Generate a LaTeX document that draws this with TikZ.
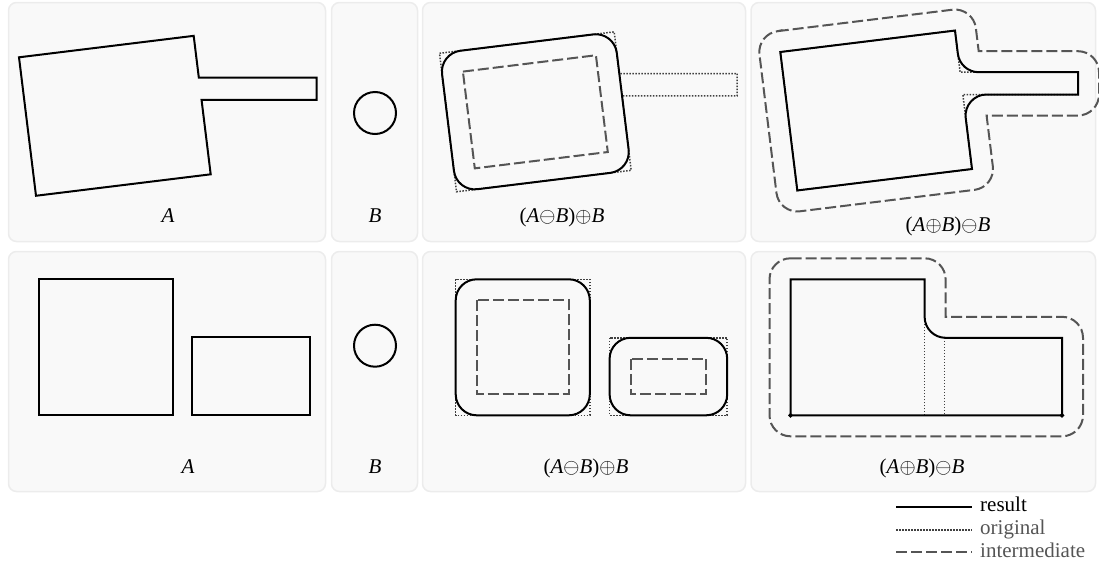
\documentclass[tikz,border=0pt]{standalone}
\usepackage{fontspec}
\setmainfont{Liberation Serif}
\definecolor{panelfill}{HTML}{F9F9F9}
\definecolor{panelline}{HTML}{ECECEC}
\definecolor{intercol}{HTML}{555555}
\definecolor{origcol}{HTML}{404040}
\definecolor{legcol}{HTML}{555555}
\tikzset{
  panel/.style={fill=panelfill, draw=panelline, line width=1.5pt, rounded corners=8pt},
  result/.style={draw=black, line width=2pt},
  original/.style={draw=origcol, line width=1.5pt, dash pattern=on 1.5pt off 1.5pt},
  interm/.style={draw=intercol, line width=2pt, dash pattern=on 11pt off 4pt},
  lbl/.style={font=\fontsize{21}{25}\selectfont, anchor=base, inner sep=0pt},
  legtext/.style={font=\fontsize{21}{25}\selectfont, anchor=base west, inner sep=0pt},
  cornermark/.style={fill=black, draw=none},
}
\begin{document}
\begin{tikzpicture}[x=1pt, y=-1pt]
\useasboundingbox (0,0) rectangle (1099,565);
% ---------- panels ----------
\path[panel] (8.5,2.5) rectangle (325.5,241.5);
\path[panel] (331.5,2.5) rectangle (417.5,241.5);
\path[panel] (422.5,2.5) rectangle (745.5,241.5);
\path[panel] (751,2.5) rectangle (1095.5,241.5);
\path[panel] (8.5,251.5) rectangle (325.5,491.5);
\path[panel] (331.5,251.5) rectangle (417.5,491.5);
\path[panel] (422.5,251.5) rectangle (745.5,491.5);
\path[panel] (751,251.5) rectangle (1095.5,491.5);

% ---------- top row ----------
% A
\draw[result] (19,57.3) -- (193.69,35.85) -- (198.80,77.5) -- (316.7,77.5) -- (316.7,99.8)
  -- (201.54,99.8) -- (210.69,174.31) -- (36.0,195.76) -- cycle;
\node[lbl] (lA1) at (168,222) {\textit{A}};
% B
\draw[result] (375,113) circle[radius=21pt];
\node[lbl] (lB1) at (375,222) {\textit{B}};
% opening
\begin{scope}[shift={(420.5,-4)}]
  \draw[original] (19,57.3) -- (193.69,35.85) -- (198.80,77.5) -- (316.7,77.5) -- (316.7,99.8)
    -- (201.54,99.8) -- (210.69,174.31) -- (36.0,195.76) -- cycle;
  \begin{scope}[shift={(19,57.3)}, rotate=7]
    \draw[interm] (21,21) -- (155,21) -- (155,118.5) -- (21,118.5) -- cycle;
    \draw[result, rounded corners=21pt] (0,0) -- (176,0) -- (176,139.5) -- (0,139.5) -- cycle;
  \end{scope}
\end{scope}
\node[lbl] (lO1) at (562,222) {(\textit{A}$\ominus$\textit{B})$\oplus$\textit{B}};
% closing
\begin{scope}[shift={(761.3,-5.3)}]
  \draw[original] (19,57.3) -- (193.69,35.85) -- (198.80,77.5) -- (316.7,77.5) -- (316.7,99.8)
    -- (201.54,99.8) -- (210.69,174.31) -- (36.0,195.76) -- cycle;
  \draw[interm] (16.44,36.46) -- (191.13,15.01) arc[start angle=97, end angle=7, radius=21pt]
    -- (217.38,56.5) -- (316.7,56.5) arc[start angle=90, end angle=0, radius=21pt]
    -- (337.7,99.8) arc[start angle=0, end angle=-90, radius=21pt]
    -- (225.27,120.8) -- (231.53,171.75) arc[start angle=7, end angle=-83, radius=21pt]
    -- (38.56,216.6) arc[start angle=-83, end angle=-173, radius=21pt]
    -- (-1.84,59.86) arc[start angle=-173, end angle=-263, radius=21pt] -- cycle;
  \draw[result] (19,57.3) -- (193.69,35.85) -- (196.54,59.06)
    .. controls (197.83,69.59) and (206.77,77.5) .. (217.38,77.5)
    -- (316.7,77.5) -- (316.7,99.8) -- (225.28,99.8)
    .. controls (212.67,99.8) and (202.89,110.84) .. (204.43,123.36)
    -- (210.69,174.31) -- (36.0,195.76) -- cycle;
\end{scope}
\node[lbl] (lC1) at (948,231.5) {(\textit{A}$\oplus$\textit{B})$\ominus$\textit{B}};

% ---------- bottom row ----------
\draw[result] (38.5,278.8) rectangle (172.6,414.8);
\draw[result] (192.4,337.3) rectangle (310,414.8);
\node[lbl] (lA2) at (188,473) {\textit{A}};
\draw[result] (375,345.7) circle[radius=21pt];
\node[lbl] (lB2) at (375,473) {\textit{B}};
% opening
\begin{scope}[shift={(417.2,0.5)}]
  \draw[original] (38.5,278.8) rectangle (172.6,414.8);
  \draw[original] (192.4,337.3) rectangle (310,414.8);
  \draw[interm] (59.5,299.8) rectangle (151.6,393.8);
  \draw[interm] (213.4,358.3) rectangle (289,393.8);
  \draw[result, rounded corners=21pt] (38.5,278.8) rectangle (172.6,414.8);
  \draw[result, rounded corners=21pt] (192.4,337.3) rectangle (310,414.8);
\end{scope}
\node[lbl] (lO2) at (586,473) {(\textit{A}$\ominus$\textit{B})$\oplus$\textit{B}};
% closing
\begin{scope}[shift={(752,0.5)}]
  \draw[original] (38.5,278.8) rectangle (172.6,414.8);
  \draw[original] (192.4,337.3) rectangle (310,414.8);
  \draw[interm] (38.5,257.8) -- (172.6,257.8) arc[start angle=90, end angle=0, radius=21pt]
    -- (193.6,316.3) -- (310,316.3) arc[start angle=90, end angle=0, radius=21pt]
    -- (331,414.8) arc[start angle=0, end angle=-90, radius=21pt]
    -- (38.5,435.8) arc[start angle=-90, end angle=-180, radius=21pt]
    -- (17.5,278.8) arc[start angle=180, end angle=90, radius=21pt] -- cycle;
  \draw[result] (38.5,278.8) -- (172.6,278.8) -- (172.6,316.3)
    arc[start angle=180, end angle=270, radius=21pt]
    -- (310,337.3) -- (310,414.8) -- (38.5,414.8) -- cycle;
  \path[cornermark] (36,414.8) -- (38.5,412.3) -- (41,414.8) -- (38.5,417.3) -- cycle;
  \path[cornermark] (307.5,414.8) -- (310,412.3) -- (312.5,414.8) -- (310,417.3) -- cycle;
\end{scope}
\node[lbl] (lC2) at (922,473) {(\textit{A}$\oplus$\textit{B})$\ominus$\textit{B}};

% ---------- legend ----------
\coordinate (r1) at (896,507.3); \coordinate (r2) at (972,507.3);
\coordinate (o1) at (896,530);   \coordinate (o2) at (972,530);
\coordinate (i1) at (896,552.3); \coordinate (i2) at (972,552.3);
\draw[result] (r1) -- (r2);
\draw[original] (o1) -- (o2);
\draw[interm] (i1) -- (i2);
\node[legtext] (tr) at (980,511) {result};
\node[legtext, text=legcol] (to) at (980,534.5) {original};
\node[legtext, text=legcol] (ti) at (980,557) {intermediate};
\end{tikzpicture}
\end{document}
